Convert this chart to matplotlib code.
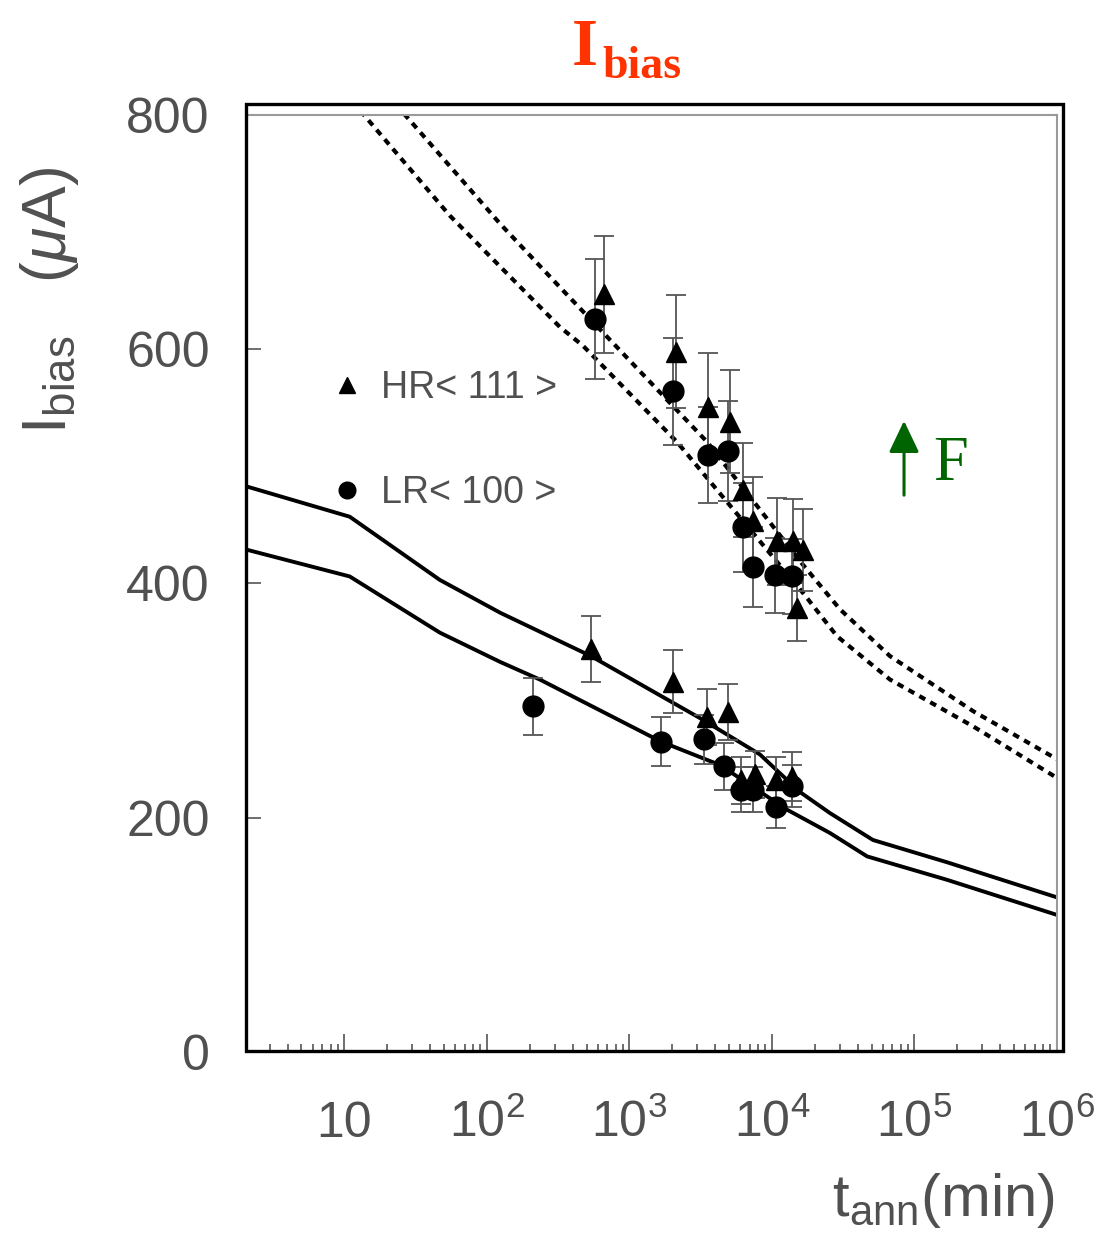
import matplotlib
matplotlib.use("Agg")
import matplotlib.pyplot as plt
from matplotlib.lines import Line2D
from matplotlib.patches import Rectangle, FancyArrowPatch
from matplotlib.ticker import FixedLocator, LogLocator, NullFormatter

plt.rcParams["font.family"] = ["Liberation Sans", "DejaVu Sans"]
plt.rcParams["mathtext.fontset"] = "custom"
plt.rcParams["mathtext.rm"] = "Liberation Sans"
plt.rcParams["mathtext.it"] = "Liberation Sans:italic"
plt.rcParams["mathtext.bf"] = "Liberation Sans:bold"

GREY = "#505050"
GREEN = "#006400"

# HR<111> (triangles): annealing time (min), current (uA), error
hr_t = [662, 2120, 3560, 5070, 6250, 7360, 10900, 14100, 16600, 15000,
        537, 2018, 3500, 4910, 6050, 7550, 10600, 13900]
hr_i = [647, 598, 551, 538, 480, 453, 436, 436, 429, 379,
        344, 316, 286, 290, 232, 237, 232, 235]
hr_err = [50, 48, 46, 44, 40, 38, 37, 36, 35, 28,
          28, 27, 24, 24, 20, 20, 20, 21]

# LR<100> (circles)
lr_t = [573, 2020, 3560, 4930, 6250, 7360, 10500, 13800,
        210, 1664, 3336, 4600, 6050, 7420, 10600, 13900]
lr_i = [626, 564, 510, 513, 448, 414, 407, 406,
        295, 265, 267, 244, 224, 224, 209, 227]
lr_err = [51, 46, 41, 43, 38, 34, 32, 32,
          24, 21, 21, 20, 19, 19, 18, 18]

# model curves
solid_hi_t = [2.04, 10.9, 46.8, 124, 537, 3130, 8240, 15700, 25500, 51100, 169000, 1e6]
solid_hi_i = [483, 457, 403, 375, 338, 285, 254, 222, 204, 181, 162, 132]
solid_lo_t = [2.04, 10.9, 46.8, 124, 235, 1664, 4320, 12700, 25500, 46500, 169000, 1e6]
solid_lo_i = [429, 406, 358, 333, 318, 265, 245, 207, 187, 167, 147, 117]

dash_hi_t = [20, 29, 124, 325, 3500, 16500, 30000, 67300, 258000, 1e6]
dash_hi_i = [817, 795, 707, 653, 521, 416, 378, 338, 291, 250]
dash_lo_t = [10, 13.5, 55, 325, 472, 2150, 16500, 28600, 67300, 258000, 1e6]
dash_lo_i = [820, 801, 714, 619, 603, 521, 392, 355, 318, 278, 234]

xticks = [10, 1e2, 1e3, 1e4, 1e5, 1e6]
xticklabels = ["10", "$10^{2}$", "$10^{3}$", "$10^{4}$", "$10^{5}$", "$10^{6}$"]
yticks = [0, 200, 400, 600, 800]


fig = plt.figure(figsize=(11.11, 12.35), dpi=100)
ax = fig.add_axes([0.2214, 0.1482, 0.7300, 0.7587])

ax.plot(solid_hi_t, solid_hi_i, color="k", lw=2.8, solid_joinstyle="round")
ax.plot(solid_lo_t, solid_lo_i, color="k", lw=2.8, solid_joinstyle="round")
ax.plot(dash_hi_t, dash_hi_i, color="k", lw=3.0, ls=(0, (1.6, 1.4)))
ax.plot(dash_lo_t, dash_lo_i, color="k", lw=3.0, ls=(0, (1.6, 1.4)))

err_kw = dict(color="k", ms=15, ecolor="#555555", elinewidth=1.3,
              capsize=7, capthick=1.3, ls="none")
ax.errorbar(hr_t, hr_i, yerr=hr_err, fmt="^", **err_kw)
ax.errorbar(lr_t, lr_i, yerr=lr_err, fmt="o", **err_kw)

ax.set_xscale("log")
ax.set_xlim(2.04, 1e6)
ax.set_ylim(0, 800)

ax.xaxis.set_major_locator(FixedLocator(xticks))
ax.set_xticklabels(xticklabels)
ax.xaxis.set_minor_locator(LogLocator(base=10, subs=range(2, 10), numticks=20))
ax.xaxis.set_minor_formatter(NullFormatter())
ax.set_yticks(yticks)

ax.tick_params(axis="both", which="major", direction="in", labelsize=36,
               labelcolor=GREY, color="#555555", width=1.2)
ax.tick_params(axis="x", which="major", length=13, pad=61)
ax.tick_params(axis="x", which="minor", direction="in", length=6,
               color="#555555", width=1.2)
ax.tick_params(axis="y", which="major", length=11, pad=26)
for t in ax.xaxis.get_major_ticks():
    t.label1.set_va("baseline")

for side in ["top", "right"]:
    ax.spines[side].set_color("#9a9a9a")
    ax.spines[side].set_linewidth(1.5)
for side in ["left", "bottom"]:
    ax.spines[side].set_visible(False)

# outer black frame
fig.add_artist(Rectangle((0.2214, 0.1486), 0.9568 - 0.2214, 0.9158 - 0.1486,
                         transform=fig.transFigure, fill=False,
                         edgecolor="k", lw=2.4, zorder=10))

handles = [Line2D([], [], marker="^", ls="none", color="k", ms=12),
           Line2D([], [], marker="o", ls="none", color="k", ms=12)]
ax.legend(handles, ["HR< 111 >", "LR< 100 >"], loc="upper left",
          bbox_to_anchor=(0.102, 0.728), frameon=False, fontsize=27,
          labelcolor=GREY, borderpad=0, borderaxespad=0, handlelength=0.95,
          handletextpad=0.45, labelspacing=1.85)

# axis titles
fig.text(0.045, 0.757, r"I$_{\rm bias}$   ($\mu$A)", rotation=90,
         ha="center", va="center", fontsize=45, color=GREY)
fig.text(0.9496, 0.015, r"t$_{\rm ann}$(min)", ha="right", va="baseline",
         fontsize=43, color=GREY)

# red heading
fig.text(0.5148, 0.947, "I", fontsize=48, fontweight="bold",
         family="Liberation Serif", color="#ff3300", va="baseline")
fig.text(0.5418, 0.937, "bias", fontsize=33, fontweight="bold",
         family="Liberation Serif", color="#ff3300", va="baseline")

# fluence arrow
fig.add_artist(FancyArrowPatch((0.8137, 0.5968), (0.8137, 0.6615),
                               transform=fig.transFigure,
                               arrowstyle="-|>,head_length=0.65,head_width=0.31",
                               mutation_scale=30, color=GREEN, lw=2.2))
fig.text(0.8398, 0.6113, "F", fontsize=45, family="Liberation Serif",
         color=GREEN, va="baseline")

fig.savefig("out.png", dpi=100)
